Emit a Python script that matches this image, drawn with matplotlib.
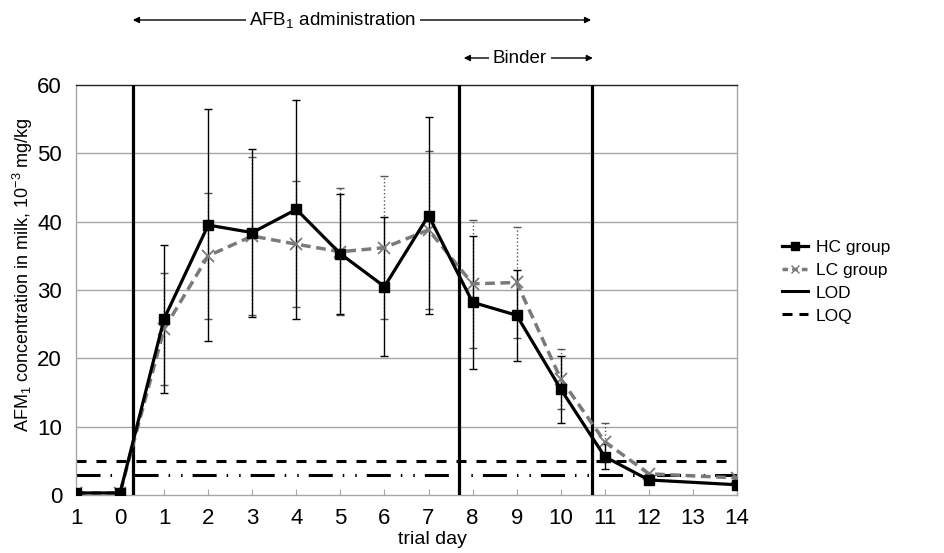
import numpy as np
import matplotlib
matplotlib.use("Agg")
import matplotlib.pyplot as plt
from matplotlib import font_manager
from matplotlib.lines import Line2D

# ---------------- data ----------------
day_labels = ['1', '0', '1', '2', '3', '4', '5', '6', '7', '8', '9', '10', '11', '12', '13', '14']
hc_values = [0.3, 0.3, 25.8, 39.5, 38.4, 41.8, 35.3, 30.5, 40.9, 28.2, 26.3, 15.5, 5.6, 2.2, np.nan, 1.5]
hc_errors = [0, 0, 10.8, 17.0, 12.3, 16.0, 8.8, 10.2, 14.4, 9.7, 6.7, 4.9, 1.8, 0, np.nan, 0]
lc_values = [0.3, 0.3, 24.3, 35.0, 37.9, 36.7, 35.6, 36.2, 38.8, 30.9, 31.1, 17.0, 7.8, 3.1, np.nan, 2.5]
lc_errors = [0, 0, 8.2, 9.2, 11.5, 9.2, 9.3, 10.5, 11.6, 9.4, 8.1, 4.4, 2.8, 0, np.nan, 0]
lod_value = 3
loq_value = 5
phase_bounds = [1.3, 8.7, 11.7]

# ---------------- fonts ----------------
names = {f.name for f in font_manager.fontManager.ttflist}
if 'Liberation Sans Narrow' in names:
    fam = 'Liberation Sans Narrow'
    fs_tick, fs_xlab, fs_ylab, fs_top, fs_leg = 17, 16.5, 16, 16.5, 15
else:
    fam = 'Liberation Sans'
    fs_tick, fs_xlab, fs_ylab, fs_top, fs_leg = 16, 14, 13, 13.5, 12.5
plt.rcParams['font.family'] = [fam, 'DejaVu Sans']
plt.rcParams['mathtext.fontset'] = 'custom'
plt.rcParams['mathtext.rm'] = fam
plt.rcParams['mathtext.it'] = fam
plt.rcParams['lines.scale_dashes'] = False

fig = plt.figure(figsize=(9.44, 5.53), dpi=100)
ax = fig.add_axes([76/944, 1-495/553, (737-76)/944, (495-85)/553])

x = np.arange(len(day_labels))
hc = np.array(hc_values, dtype=float)
lc = np.array(lc_values, dtype=float)
hce = np.array(hc_errors, dtype=float)
lce = np.array(lc_errors, dtype=float)
mh = ~np.isnan(hc)
ml = ~np.isnan(lc)

grey_grid = '#a6a6a6'
for v in range(10, 60, 10):
    ax.axhline(v, color=grey_grid, lw=1, zorder=1)

# LOQ / LOD
ax.axhline(loq_value, xmin=0, xmax=0.985, color='black', lw=2.2,
           linestyle=(0, (7.2, 7.2)), zorder=2)
ax.axhline(lod_value, color='black', lw=2.2,
           linestyle=(0, (17.3, 7.2, 1.1, 7.9, 1.1, 7.2)), zorder=2)

# phase boundaries
for b in phase_bounds:
    ax.axvline(b, color='black', lw=2.3, zorder=3)

# error bars
el = ax.errorbar(x[ml], lc[ml], yerr=lce[ml], fmt='none', ecolor='#555555',
                 elinewidth=1, capsize=3, capthick=1, zorder=4)
for lcoll in el[2]:
    lcoll.set_linestyle(':')
ax.errorbar(x[mh], hc[mh], yerr=hce[mh], fmt='none', ecolor='black',
            elinewidth=1, capsize=3, capthick=1, zorder=5)

# series
ax.plot(x[ml], lc[ml], color='#7a7a7a', lw=2.5, linestyle=(0, (7, 4)),
        marker='x', markersize=8, markeredgewidth=1.3, zorder=6)
ax.plot(x[mh], hc[mh], color='black', lw=2.3, marker='s',
        markersize=7, zorder=7)

ax.set_xlim(0, len(day_labels) - 1)
ax.set_ylim(0, 60)
ax.set_xticks(x)
ax.set_xticklabels(day_labels, fontsize=fs_tick)
ax.set_yticks(range(0, 61, 10))
ax.set_yticklabels([str(v) for v in range(0, 61, 10)], fontsize=fs_tick)
ax.tick_params(axis='x', direction='in', length=4, color=grey_grid, pad=9)
ax.tick_params(axis='y', length=0, pad=10)

for s in ['left', 'right', 'bottom']:
    ax.spines[s].set_color(grey_grid)
    ax.spines[s].set_linewidth(1)
ax.spines['top'].set_color('#222222')
ax.spines['top'].set_linewidth(1)

ax.set_xlabel('trial day', fontsize=fs_xlab)
ax.xaxis.set_label_coords(0.539, -0.087)
ax.set_ylabel('AFM$_1$ concentration in milk, 10$^{-3}$ mg/kg', fontsize=fs_ylab)
ax.yaxis.set_label_coords(-0.062, 0.537)

# top annotations
tr = ax.get_xaxis_transform()
y1 = (495-20)/410
y2 = (495-58)/410
ap = dict(arrowstyle='-|>', color='black', lw=1, mutation_scale=9, shrinkA=0, shrinkB=0)
ax.annotate('', xy=(1.29, y1), xytext=(5.83, y1), xycoords=tr, textcoords=tr, arrowprops=ap)
ax.annotate('', xy=(11.69, y1), xytext=(5.83, y1), xycoords=tr, textcoords=tr, arrowprops=ap)
ax.text(5.83, y1, 'AFB$_1$ administration', transform=tr, ha='center', va='center',
        fontsize=fs_top, clip_on=False, zorder=10,
        bbox=dict(boxstyle='square,pad=0.2', fc='white', ec='none'))
ax.annotate('', xy=(8.80, y2), xytext=(10.07, y2), xycoords=tr, textcoords=tr, arrowprops=ap)
ax.annotate('', xy=(11.73, y2), xytext=(10.07, y2), xycoords=tr, textcoords=tr, arrowprops=ap)
ax.text(10.07, y2, 'Binder', transform=tr, ha='center', va='center',
        fontsize=fs_top, clip_on=False, zorder=10,
        bbox=dict(boxstyle='square,pad=0.2', fc='white', ec='none'))

# legend
handles = [
    Line2D([], [], color='black', lw=2.3, marker='s', markersize=6),
    Line2D([], [], color='#7a7a7a', lw=2.5, linestyle=(0, (4, 3)), marker='x', markersize=6),
    Line2D([], [], color='black', lw=2.2),
    Line2D([], [], color='black', lw=2.2, linestyle=(0, (7.2, 5))),
]
fig.legend(handles, ['HC group', 'LC group', 'LOD', 'LOQ'], loc='center left',
           bbox_to_anchor=(782/944, 1-281.5/553), frameon=False, fontsize=fs_leg,
           handlelength=1.5, handletextpad=0.45, labelspacing=0.45,
           borderpad=0, borderaxespad=0)

fig.savefig('out.png', dpi=100)
